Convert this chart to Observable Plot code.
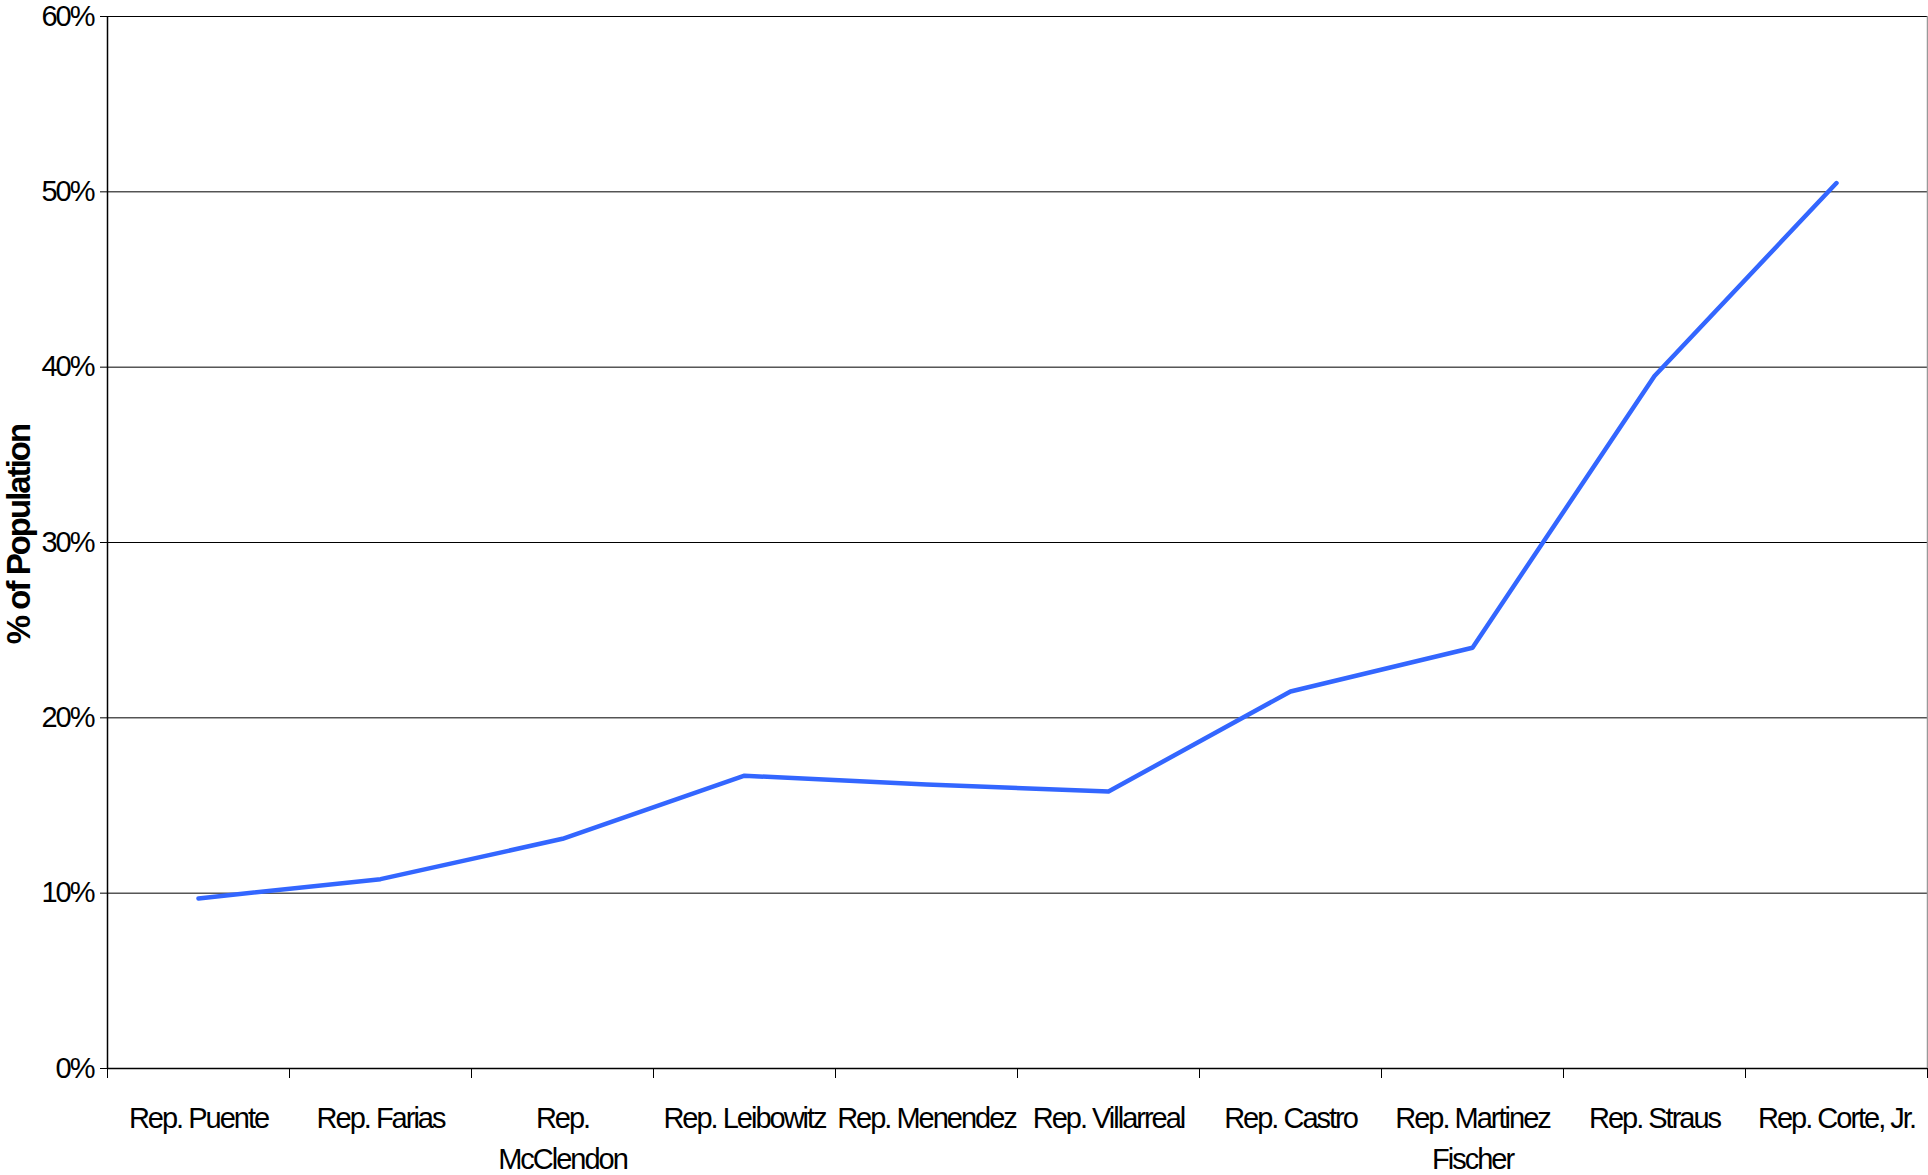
<!DOCTYPE html>
<html>
<head>
<meta charset="utf-8">
<script src="https://cdn.jsdelivr.net/npm/d3@7"></script>
<script src="https://cdn.jsdelivr.net/npm/@observablehq/plot@0.6"></script>
<style>
  html, body { margin: 0; padding: 0; background: #fff; }
  #chart svg { display: block; }
</style>
</head>
<body>
<div id="chart"></div>
<script>
const categories = ["Rep. Puente", "Rep. Farias", "Rep. McClendon", "Rep. Leibowitz", "Rep. Menendez",
  "Rep. Villarreal", "Rep. Castro", "Rep. Martinez Fischer", "Rep. Straus", "Rep. Corte, Jr."];
const tickLabels = ["Rep. Puente", "Rep. Farias", "Rep.\nMcClendon", "Rep. Leibowitz", "Rep. Menendez",
  "Rep. Villarreal", "Rep. Castro", "Rep. Martinez\nFischer", "Rep. Straus", "Rep. Corte, Jr."];
const values = [9.7, 10.8, 13.1, 16.7, 16.2, 15.8, 21.5, 24.0, 39.5, 50.5];
const yTicks = [0, 10, 20, 30, 40, 50, 60];
const yLabel = "% of Population";

const data = categories.map((c, i) => ({name: c, pos: i + 0.5, value: values[i]}));
const boundaries = d3.range(0, categories.length + 1);
const centers = categories.map((c, i) => i + 0.5);

const font = "'Liberation Sans', Arial, sans-serif";

const chart = Plot.plot({
  width: 1928,
  height: 1175,
  marginLeft: 107,
  marginRight: 1,
  marginTop: 16,
  marginBottom: 107,
  style: {fontFamily: font, fontSize: "29px", color: "#000", background: "#fff", letterSpacing: "-2px"},
  x: {type: "linear", domain: [0, categories.length]},
  y: {domain: [0, 60]},
  marks: [
    Plot.ruleY(yTicks.filter(d => d > 0), {stroke: "#000", strokeWidth: 1}),
    Plot.ruleX([categories.length], {stroke: "#999", strokeWidth: 1.5}),
    Plot.ruleX([0], {stroke: "#000", strokeWidth: 1.5}),
    Plot.ruleY([0], {stroke: "#000", strokeWidth: 1.5}),
    Plot.axisY({ticks: yTicks, tickFormat: d => d + "%", tickSize: 7, tickPadding: 7, label: null,
      fontSize: 29, stroke: "#000"}),
    Plot.axisX({ticks: boundaries, tickFormat: () => "", tickSize: 10, label: null, stroke: "#000"}),
    Plot.axisX({ticks: centers, tickFormat: (d) => tickLabels[Math.round(d - 0.5)], tickSize: 0,
      tickPadding: 30, label: null, fontSize: 29, lineHeight: 1.42}),
    Plot.line(data, {x: "pos", y: "value", stroke: "#3366FF", strokeWidth: 4.5,
      strokeLinejoin: "round", strokeLinecap: "round"}),
    Plot.text([yLabel], {frameAnchor: "left", dx: -78, dy: -8, rotate: -90, text: d => d,
      fontWeight: "bold", fontSize: 33, lineAnchor: "bottom", textAnchor: "middle", fill: "#000",
      letterSpacing: "0px"})
  ]
});
document.getElementById("chart").appendChild(chart);
</script>
</body>
</html>
